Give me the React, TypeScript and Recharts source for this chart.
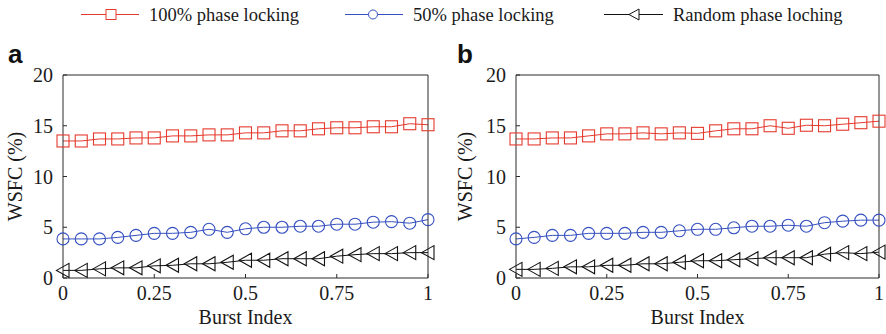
import React from 'react';
import { LineChart, Line, XAxis, YAxis } from 'recharts';

const burstIndex = [0, 0.05, 0.1, 0.15, 0.2, 0.25, 0.3, 0.35, 0.4, 0.45, 0.5, 0.55, 0.6, 0.65, 0.7, 0.75, 0.8, 0.85, 0.9, 0.95, 1];

const fullLockA = [13.5, 13.5, 13.7, 13.7, 13.8, 13.8, 14.0, 14.0, 14.1, 14.1, 14.3, 14.3, 14.5, 14.5, 14.7, 14.8, 14.8, 14.9, 14.9, 15.2, 15.1];
const halfLockA = [3.85, 3.85, 3.85, 4.0, 4.2, 4.4, 4.4, 4.5, 4.8, 4.5, 4.85, 5.0, 5.0, 5.1, 5.1, 5.3, 5.3, 5.5, 5.55, 5.4, 5.75];
const randomA = [0.75, 0.75, 0.9, 1.0, 1.0, 1.2, 1.25, 1.4, 1.4, 1.55, 1.75, 1.75, 1.9, 1.9, 1.9, 2.15, 2.3, 2.4, 2.4, 2.5, 2.5];

const fullLockB = [13.7, 13.7, 13.8, 13.8, 14.0, 14.2, 14.2, 14.3, 14.2, 14.3, 14.25, 14.5, 14.7, 14.7, 15.0, 14.75, 15.05, 15.0, 15.15, 15.3, 15.45];
const halfLockB = [3.85, 4.0, 4.2, 4.2, 4.4, 4.4, 4.4, 4.5, 4.5, 4.65, 4.8, 4.8, 4.95, 5.1, 5.1, 5.2, 5.1, 5.45, 5.6, 5.7, 5.7];
const randomB = [0.85, 0.85, 0.95, 1.1, 1.1, 1.25, 1.25, 1.4, 1.4, 1.55, 1.7, 1.7, 1.8, 1.9, 2.0, 2.0, 2.0, 2.35, 2.5, 2.4, 2.55];

const xTicks = [0, 0.25, 0.5, 0.75, 1];
const yTicks = [0, 5, 10, 15, 20];
const seriesNames = ['100% phase locking', '50% phase locking', 'Random phase loching'];

const RED = '#e53a2e';
const BLUE = '#3550c0';
const BLACK = '#111111';
const AXIS = '#2a2a2a';
const FONT = '"Liberation Serif", "Times New Roman", serif';

const rowsA = burstIndex.map((x, i) => ({ x, full: fullLockA[i], half: halfLockA[i], rnd: randomA[i] }));
const rowsB = burstIndex.map((x, i) => ({ x, full: fullLockB[i], half: halfLockB[i], rnd: randomB[i] }));

const SquareDot = (p: any) => {
  const { cx, cy, index } = p;
  if (cx == null || cy == null) return <g key={`s-${index}`} />;
  return <rect key={`s-${index}`} x={cx - 6} y={cy - 6} width={12} height={12} fill="none" stroke={RED} strokeWidth={1.1} />;
};
const CircleDot = (p: any) => {
  const { cx, cy, index } = p;
  if (cx == null || cy == null) return <g key={`c-${index}`} />;
  return <circle key={`c-${index}`} cx={cx} cy={cy} r={6} fill="none" stroke={BLUE} strokeWidth={1.1} />;
};
const TriDot = (p: any) => {
  const { cx, cy, index } = p;
  if (cx == null || cy == null) return <g key={`t-${index}`} />;
  return (
    <polygon
      key={`t-${index}`}
      points={`${cx - 6.5},${cy} ${cx + 6},${cy - 7} ${cx + 6},${cy + 7}`}
      fill="none"
      stroke={BLACK}
      strokeWidth={1.1}
    />
  );
};

const XTick = (p: any) => {
  const { x, y, payload } = p;
  return (
    <text x={x} y={y} dy={14} textAnchor="middle" style={{ fontFamily: FONT, fontSize: 20, fill: '#1a1a1a' }}>
      {String(payload.value)}
    </text>
  );
};
const YTick = (p: any) => {
  const { x, y, payload } = p;
  return (
    <text x={x} y={y} dy={7} textAnchor="end" style={{ fontFamily: FONT, fontSize: 20, fill: '#1a1a1a' }}>
      {String(payload.value)}
    </text>
  );
};

function Panel({ data, margin }: { data: any[]; margin: any }) {
  return (
    <LineChart width={443} height={334} data={data} margin={margin}>
      <XAxis
        dataKey="x"
        type="number"
        domain={[0, 1]}
        ticks={xTicks}
        height={40}
        tickSize={-4}
        tickMargin={12}
        stroke={AXIS}
        tick={XTick}
        interval={0}
      />
      <XAxis
        xAxisId="top"
        orientation="top"
        dataKey="x"
        type="number"
        domain={[0, 1]}
        ticks={xTicks}
        height={1}
        tickSize={-4}
        tick={false}
        stroke={AXIS}
      />
      <YAxis
        type="number"
        domain={[0, 20]}
        ticks={yTicks}
        width={50}
        tickSize={-4}
        tickMargin={14}
        stroke={AXIS}
        tick={YTick}
        interval={0}
      />
      <YAxis
        yAxisId="right"
        orientation="right"
        type="number"
        domain={[0, 20]}
        ticks={yTicks}
        width={1}
        tickSize={-4}
        tick={false}
        stroke={AXIS}
      />
      <Line dataKey="full" type="linear" stroke={RED} strokeWidth={1} dot={SquareDot} isAnimationActive={false} />
      <Line dataKey="half" type="linear" stroke={BLUE} strokeWidth={1} dot={CircleDot} isAnimationActive={false} />
      <Line dataKey="rnd" type="linear" stroke={BLACK} strokeWidth={1} dot={TriDot} isAnimationActive={false} />
    </LineChart>
  );
}

export default function App() {
  return (
    <div style={{ position: 'absolute', left: 0, top: 0, width: 886, height: 334, background: '#fff', overflow: 'hidden' }}>
      <div style={{ position: 'absolute', left: 0, top: 0 }}>
        <Panel data={rowsA} margin={{ top: 74, right: 14, bottom: 16, left: 13 }} />
      </div>
      <div style={{ position: 'absolute', left: 443, top: 0 }}>
        <Panel data={rowsB} margin={{ top: 74, right: 6, bottom: 16, left: 23 }} />
      </div>
      <svg width={886} height={334} style={{ position: 'absolute', left: 0, top: 0, pointerEvents: 'none' }}>
        <line x1={81} x2={139} y1={14.5} y2={14.5} stroke={RED} strokeWidth={1} />
        <rect x={106} y={9.5} width={10} height={10} fill="#fff" stroke={RED} strokeWidth={1} />
        <text x={149} y={21} fontFamily={FONT} fontSize={18.5} fill="#1a1a1a">{seriesNames[0]}</text>
        <line x1={345} x2={403} y1={14.5} y2={14.5} stroke={BLUE} strokeWidth={1} />
        <circle cx={373} cy={14.5} r={4.5} fill="#fff" stroke={BLUE} strokeWidth={1} />
        <text x={413} y={21} fontFamily={FONT} fontSize={18.5} fill="#1a1a1a">{seriesNames[1]}</text>
        <line x1={604} x2={663} y1={14.5} y2={14.5} stroke={BLACK} strokeWidth={1} />
        <polygon points="629,14.5 639,9 639,20" fill="#fff" stroke={BLACK} strokeWidth={1} />
        <text x={673} y={21} fontFamily={FONT} fontSize={18.5} fill="#1a1a1a">{seriesNames[2]}</text>
        <text x={8} y={63} fontFamily='"Liberation Sans", Arial, sans-serif' fontWeight="bold" fontSize={26} fill="#111">a</text>
        <text x={457} y={63} fontFamily='"Liberation Sans", Arial, sans-serif' fontWeight="bold" fontSize={26} fill="#111">b</text>
        <text x={245.5} y={324} textAnchor="middle" fontFamily={FONT} fontSize={20} fill="#1a1a1a">Burst Index</text>
        <text x={697.5} y={324} textAnchor="middle" fontFamily={FONT} fontSize={20} fill="#1a1a1a">Burst Index</text>
        <text transform="translate(22,176.5) rotate(-90)" textAnchor="middle" fontFamily={FONT} fontSize={20} fill="#1a1a1a">WSFC (%)</text>
        <text transform="translate(472,176.5) rotate(-90)" textAnchor="middle" fontFamily={FONT} fontSize={20} fill="#1a1a1a">WSFC (%)</text>
      </svg>
    </div>
  );
}
